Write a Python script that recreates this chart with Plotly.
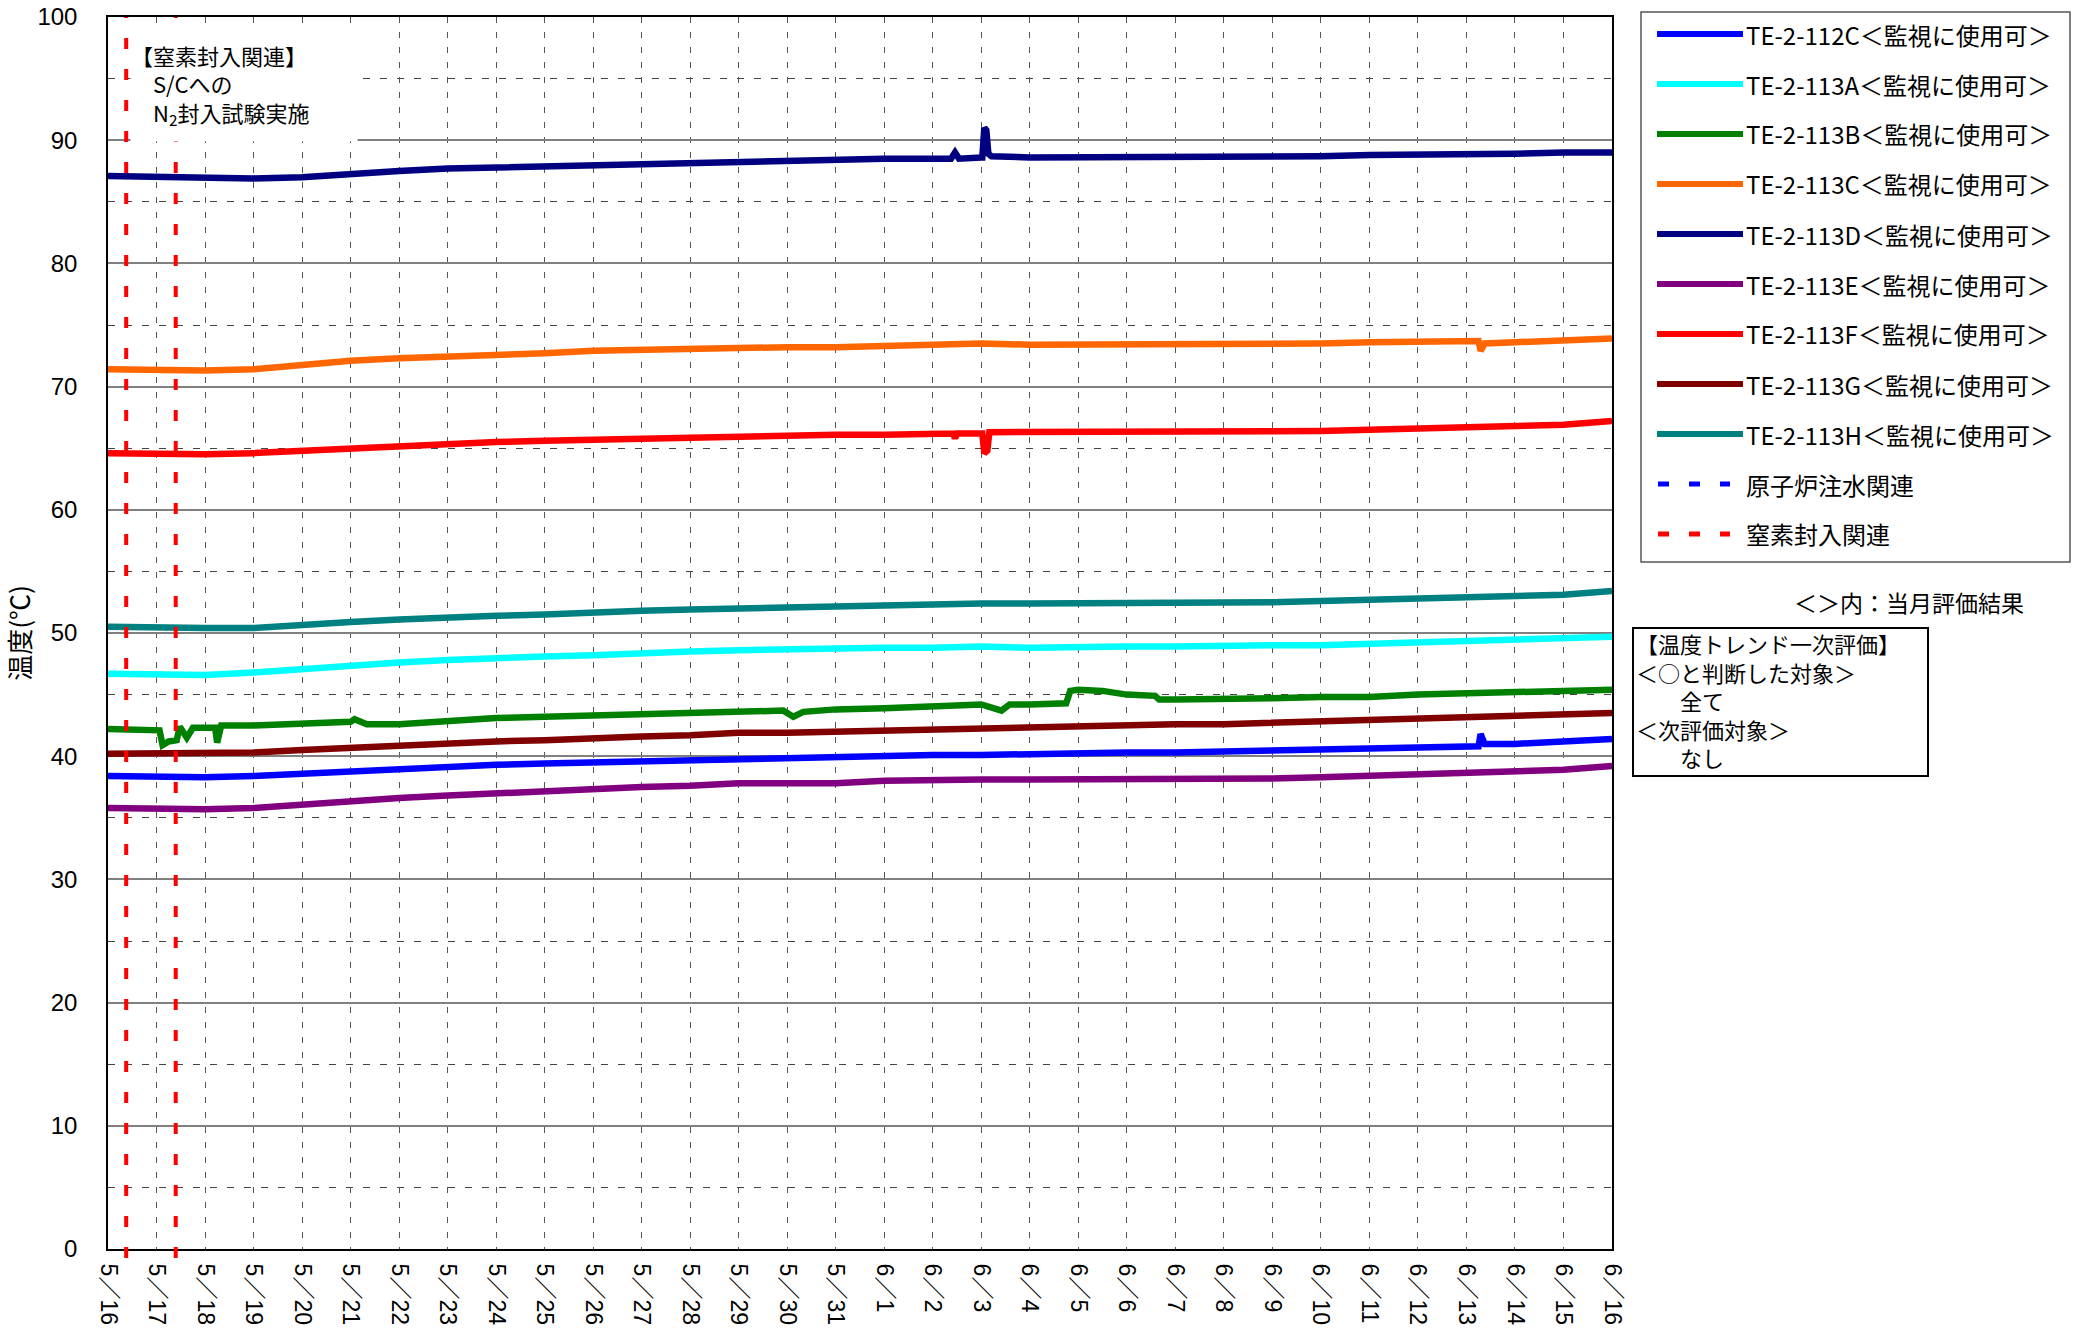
import pandas as pd
import plotly.graph_objects as go

# ---------------- data ----------------
dates = [d.strftime("%Y-%m-%d") for d in pd.date_range("2013-05-16", "2013-06-16", freq="D")]

te112c = [38.4, 38.3, 38.3, 38.4, 38.6, 38.8, 39.0, 39.2, 39.3, 39.4, 39.5, 39.6, 39.7, 39.8, 39.8, 39.9,
          40.0, 40.1, 40.1, 40.2, 40.2, 40.3, 40.3, 40.4, 40.5, 40.5, 40.6, 40.7, 40.8, 41.0, 41.2, 41.4]
te113a = [46.7, 46.7, 46.6, 46.8, 47.1, 47.4, 47.6, 47.8, 48.0, 48.1, 48.2, 48.4, 48.5, 48.6, 48.7, 48.7,
          48.8, 48.8, 48.9, 48.8, 48.9, 48.9, 48.9, 49.0, 49.0, 49.0, 49.1, 49.2, 49.3, 49.4, 49.5, 49.7]
te113b = [42.2, 42.1, 42.3, 42.5, 42.6, 42.8, 42.6, 42.9, 43.1, 43.2, 43.3, 43.4, 43.6, 43.7, 43.5, 43.8,
          43.9, 44.0, 44.2, 44.2, 45.4, 45.0, 44.6, 44.6, 44.7, 44.8, 44.8, 45.0, 45.1, 45.2, 45.3, 45.4]
te113c = [71.4, 71.3, 71.3, 71.4, 71.8, 72.1, 72.3, 72.4, 72.5, 72.7, 72.9, 73.0, 73.1, 73.2, 73.2, 73.2,
          73.3, 73.4, 73.5, 73.4, 73.4, 73.4, 73.4, 73.4, 73.5, 73.5, 73.6, 73.6, 73.7, 73.6, 73.8, 73.9]
te113d = [87.1, 87.0, 86.9, 86.9, 87.0, 87.3, 87.5, 87.7, 87.8, 87.9, 88.0, 88.1, 88.2, 88.3, 88.4, 88.4,
          88.5, 88.5, 88.6, 88.6, 88.6, 88.6, 88.6, 88.7, 88.7, 88.7, 88.8, 88.8, 88.9, 88.9, 89.0, 89.0]
te113e = [35.8, 35.7, 35.7, 35.8, 36.1, 36.4, 36.6, 36.8, 37.0, 37.2, 37.3, 37.5, 37.6, 37.8, 37.8, 37.8,
          38.0, 38.1, 38.1, 38.1, 38.1, 38.1, 38.1, 38.2, 38.2, 38.3, 38.4, 38.5, 38.6, 38.7, 38.9, 39.2]
te113f = [64.6, 64.5, 64.5, 64.6, 64.8, 65.0, 65.2, 65.4, 65.5, 65.6, 65.7, 65.8, 65.9, 66.0, 66.0, 66.1,
          66.1, 66.2, 66.2, 66.3, 66.3, 66.3, 66.3, 66.3, 66.4, 66.4, 66.5, 66.6, 66.7, 66.8, 66.9, 67.2]
te113g = [40.2, 40.2, 40.2, 40.3, 40.5, 40.7, 40.9, 41.0, 41.2, 41.3, 41.5, 41.6, 41.7, 41.9, 41.9, 42.0,
          42.1, 42.2, 42.3, 42.4, 42.4, 42.5, 42.6, 42.6, 42.7, 42.8, 42.9, 43.0, 43.1, 43.2, 43.3, 43.5]
te113h = [50.5, 50.4, 50.4, 50.4, 50.7, 50.9, 51.1, 51.3, 51.4, 51.5, 51.7, 51.8, 51.9, 52.0, 52.1, 52.1,
          52.2, 52.3, 52.4, 52.4, 52.4, 52.4, 52.4, 52.5, 52.5, 52.6, 52.7, 52.8, 52.9, 53.0, 53.1, 53.4]

# short excursions between the daily readings
te112c_evt_t = ["2013-06-13 06:00", "2013-06-13 07:00", "2013-06-13 09:00"]
te112c_evt_v = [40.8, 41.8, 41.0]
te113b_evt_t = ["2013-05-17 01:30", "2013-05-17 03:00", "2013-05-17 06:00", "2013-05-17 10:00",
                "2013-05-17 11:30", "2013-05-17 15:00", "2013-05-17 18:00", "2013-05-18 05:00",
                "2013-05-18 06:00", "2013-05-18 08:00", "2013-05-21 02:00", "2013-05-21 08:00",
                "2013-05-29 22:00", "2013-05-30 03:00", "2013-05-30 08:00", "2013-06-03 10:00",
                "2013-06-03 14:00", "2013-06-04 18:00", "2013-06-04 20:00", "2013-06-05 12:00",
                "2013-06-06 14:00", "2013-06-06 16:00"]
te113b_evt_v = [42.1, 40.9, 41.2, 41.3, 42.4, 41.5, 42.3, 42.3, 41.1, 42.5, 43.0, 42.6,
                43.7, 43.2, 43.6, 43.7, 44.2, 44.3, 45.3, 45.3, 44.9, 44.6]
te113c_evt_t = ["2013-06-13 06:00", "2013-06-13 07:00", "2013-06-13 09:00"]
te113c_evt_v = [73.7, 72.9, 73.5]
te113d_evt_t = ["2013-06-02 09:00", "2013-06-02 11:00", "2013-06-02 13:00", "2013-06-03 00:30",
                "2013-06-03 01:30", "2013-06-03 02:30", "2013-06-03 03:30", "2013-06-03 05:00"]
te113d_evt_v = [88.5, 89.0, 88.5, 88.6, 91.0, 90.8, 88.9, 88.7]
te113f_evt_t = ["2013-06-02 10:00", "2013-06-02 11:00", "2013-06-02 12:00", "2013-06-03 00:30",
                "2013-06-03 01:30", "2013-06-03 03:00", "2013-06-03 04:00"]
te113f_evt_v = [66.2, 65.8, 66.2, 66.2, 64.6, 64.8, 66.3]

n2_event_times = ["2013-05-16 09:00", "2013-05-17 09:30"]   # 窒素封入関連
inj_event_times = []                                        # 原子炉注水関連 (none this period)

series_names = ["TE-2-112C＜監視に使用可＞", "TE-2-113A＜監視に使用可＞", "TE-2-113B＜監視に使用可＞",
                "TE-2-113C＜監視に使用可＞", "TE-2-113D＜監視に使用可＞", "TE-2-113E＜監視に使用可＞",
                "TE-2-113F＜監視に使用可＞", "TE-2-113G＜監視に使用可＞", "TE-2-113H＜監視に使用可＞"]
series_colors = ["#0000FF", "#00FFFF", "#008000", "#FF6600", "#000080", "#800080", "#FF0000", "#800000", "#008080"]

y_ticks = [0, 10, 20, 30, 40, 50, 60, 70, 80, 90, 100]

# ---------------- helpers ----------------
W, H = 2080, 1334
L, R, T, B = 108, 468, 17, 85
PW, PH = W - L - R, H - T - B


def px(x):
    return (x - L) / PW


def py(y):
    return (H - B - y) / PH


def merged(vals, evt_t=None, evt_v=None):
    s = pd.Series(vals, index=pd.to_datetime(dates))
    if evt_t:
        s = pd.concat([s, pd.Series(evt_v, index=pd.to_datetime(evt_t))]).sort_index()
    return s


series_data = [
    merged(te112c, te112c_evt_t, te112c_evt_v),
    merged(te113a),
    merged(te113b, te113b_evt_t, te113b_evt_v),
    merged(te113c, te113c_evt_t, te113c_evt_v),
    merged(te113d, te113d_evt_t, te113d_evt_v),
    merged(te113e),
    merged(te113f, te113f_evt_t, te113f_evt_v),
    merged(te113g),
    merged(te113h),
]

JP = "Noto Sans CJK JP"
NUM = "Liberation Sans, Noto Sans CJK JP"

fig = go.Figure()
for name, color, s in zip(series_names, series_colors, series_data):
    fig.add_trace(go.Scatter(x=s.index, y=s.values, mode="lines", name=name,
                             line=dict(color=color, width=6.5), showlegend=False))

shapes = []
annotations = []

# event lines
for t in n2_event_times:
    shapes.append(dict(type="line", xref="x", yref="paper", x0=t, x1=t, y0=-0.0073, y1=1,
                       line=dict(color="#FF0000", width=4, dash="11px,20px"), layer="above"))
for t in inj_event_times:
    shapes.append(dict(type="line", xref="x", yref="paper", x0=t, x1=t, y0=-0.0073, y1=1,
                       line=dict(color="#0000FF", width=4, dash="11px,20px"), layer="above"))

# in-plot annotation
annotations.append(dict(xref="paper", yref="paper", x=px(130), y=py(27), xanchor="left", yanchor="top",
                        width=226, height=113, align="left", valign="middle", bgcolor="white",
                        borderpad=0, showarrow=False,
                        text="【窒素封入関連】<br>　S/Cへの<br>　N<sub>2</sub>封入試験実施",
                        font=dict(family=JP, size=22, color="black")))

# custom legend
shapes.append(dict(type="rect", xref="paper", yref="paper", x0=px(1641), x1=px(2070), y0=py(562), y1=py(12),
                   line=dict(color="#555555", width=1.5), fillcolor="white", layer="below"))
legend_items = [(n, c, "solid") for n, c in zip(series_names, series_colors)]
legend_items += [("原子炉注水関連", "#0000FF", "dash"), ("窒素封入関連", "#FF0000", "dash")]
for i, (n, c, kind) in enumerate(legend_items):
    yc = 34 + 50 * i
    if kind == "solid":
        shapes.append(dict(type="line", xref="paper", yref="paper", x0=px(1657), x1=px(1743),
                           y0=py(yc), y1=py(yc), line=dict(color=c, width=6)))
    else:
        shapes.append(dict(type="line", xref="paper", yref="paper", x0=px(1658), x1=px(1730),
                           y0=py(yc), y1=py(yc), line=dict(color=c, width=5, dash="11px,20px")))
    annotations.append(dict(xref="paper", yref="paper", x=px(1744), y=py(yc), xanchor="left",
                            yanchor="middle", showarrow=False, text=n,
                            font=dict(family=JP, size=24, color="black")))

annotations.append(dict(xref="paper", yref="paper", x=px(2026), y=py(602), xanchor="right",
                        yanchor="middle", showarrow=False, text="＜＞内：当月評価結果",
                        font=dict(family=JP, size=23, color="black")))

# evaluation text box
shapes.append(dict(type="rect", xref="paper", yref="paper", x0=px(1633), x1=px(1928), y0=py(776), y1=py(628),
                   line=dict(color="black", width=2), fillcolor="white", layer="below"))
box_lines = ["【温度トレンド一次評価】", "＜○と判断した対象＞", "　　全て", "＜次評価対象＞", "　　なし"]
annotations.append(dict(xref="paper", yref="paper", x=px(1634), y=py(625), xanchor="left",
                        yanchor="top", align="left", showarrow=False, text="<br>".join(box_lines),
                        font=dict(family=JP, size=22, color="black")))

fig.update_layout(
    width=W, height=H,
    margin=dict(l=L, r=R, t=T, b=B, autoexpand=False),
    paper_bgcolor="white", plot_bgcolor="white",
    showlegend=False,
    shapes=shapes, annotations=annotations,
    xaxis=dict(type="date", range=[dates[0], dates[-1]], tick0=dates[0], dtick=86400000,
               tickformat="%-m／%-d", tickangle=90, tickfont=dict(family=NUM, size=23, color="black"),
               showgrid=True, gridcolor="#555555", gridwidth=1, griddash="6px,9px",
               showline=True, linecolor="black", linewidth=2, mirror=True, ticks="",
               ticklabelstandoff=8, zeroline=False, automargin=False),
    yaxis=dict(range=[0, 100], tickvals=y_ticks, tickfont=dict(family=NUM, size=24, color="black"),
               showgrid=True, gridcolor="#808080", gridwidth=1.5,
               minor=dict(dtick=5, showgrid=True, gridcolor="#444444", gridwidth=1, griddash="7px,10px"),
               showline=True, linecolor="black", linewidth=1.5, mirror=True, ticks="",
               ticklabelstandoff=24, zeroline=False, automargin=False,
               title=dict(text="温度(℃)", font=dict(family=JP, size=26, color="black"), standoff=0)),
)

fig.write_html("out.html", config={"displayModeBar": False},
               post_script="document.body.style.margin='0';document.body.style.overflow='hidden';")
